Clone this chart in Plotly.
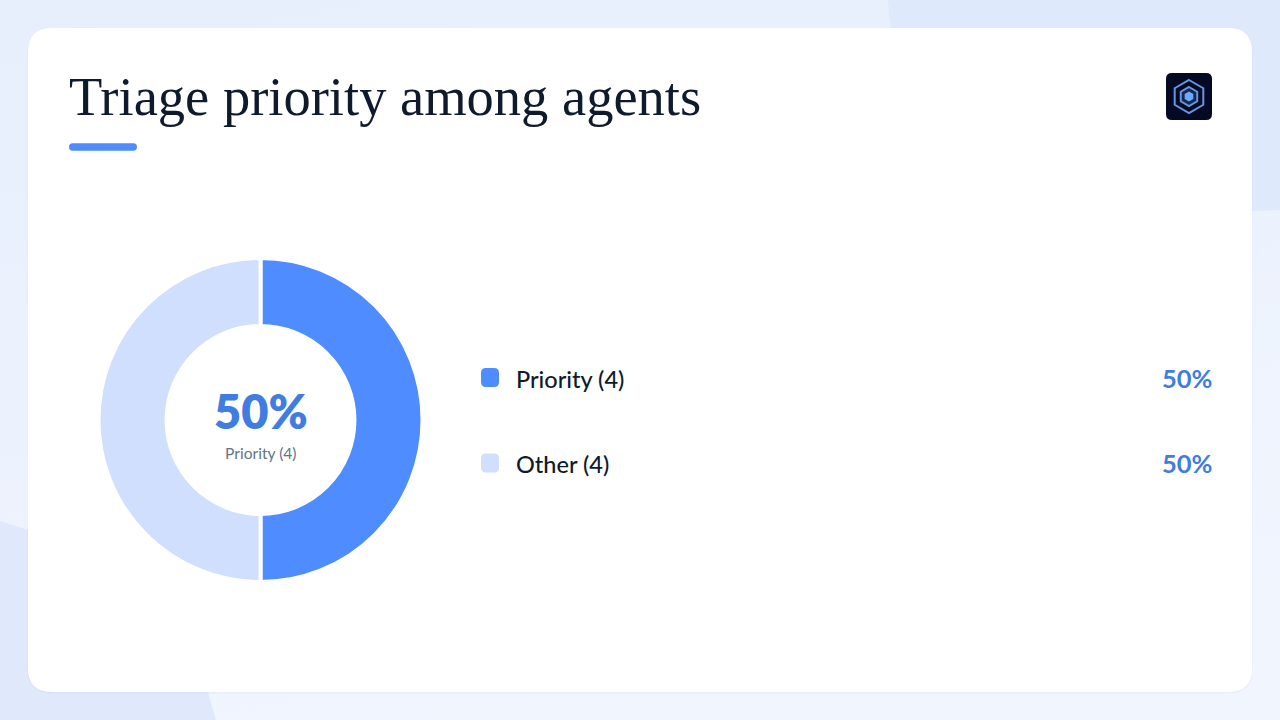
import base64
import plotly.graph_objects as go

W, H = 1280, 720

labels = ['Priority (4)', 'Other (4)']
counts = [4, 4]
slice_colors = ['#4F8CFF', '#CFDFFD']
title_text = 'Triage priority among agents'

total = sum(counts)
pct = [f'{round(c / total * 100)}%' for c in counts]


def px(x):
    return x / W


def py(y):
    return 1 - y / H


def P(x, y):
    return f'{px(x):.5f},{py(y):.5f}'


def rrect(x0, y0, x1, y1, r):
    return (f'M{P(x0 + r, y0)} L{P(x1 - r, y0)} Q{P(x1, y0)} {P(x1, y0 + r)} '
            f'L{P(x1, y1 - r)} Q{P(x1, y1)} {P(x1 - r, y1)} '
            f'L{P(x0 + r, y1)} Q{P(x0, y1)} {P(x0, y1 - r)} '
            f'L{P(x0, y0 + r)} Q{P(x0, y0)} {P(x0 + r, y0)} Z')


def hexagon(cx, cy, r):
    k = r * 0.866
    pts = [(cx, cy - r), (cx + k, cy - r / 2), (cx + k, cy + r / 2),
           (cx, cy + r), (cx - k, cy + r / 2), (cx - k, cy - r / 2)]
    return 'M' + ' L'.join(P(a, b) for a, b in pts) + ' Z'


def shape(path, fill, line=None, width=0):
    return dict(type='path', path=path, xref='paper', yref='paper', layer='below',
                fillcolor=fill, line=dict(color=line or 'rgba(0,0,0,0)', width=width))


# soft page gradient behind everything
svg = (f'<svg xmlns="http://www.w3.org/2000/svg" width="{W}" height="{H}">'
       '<defs><linearGradient id="g" x1="0.1" y1="0" x2="0.4" y2="1">'
       '<stop offset="0" stop-color="#E7EFFD"/><stop offset="1" stop-color="#F1F5FE"/>'
       '</linearGradient></defs>'
       f'<rect width="{W}" height="{H}" fill="url(#g)"/></svg>')
bg_src = 'data:image/svg+xml;base64,' + base64.b64encode(svg.encode()).decode()

shapes = [
    # background blobs
    shape(f'M{P(888, 0)} Q{P(900, 205)} {P(1120, 214)} L{P(1280, 210)} L{P(1280, 0)} Z', '#DFE9FC'),
    shape(f'M{P(0, 521)} L{P(28, 530)} Q{P(170, 570)} {P(208, 692)} L{P(216, 720)} L{P(0, 720)} Z', '#DFE9FB'),
    # card
    shape(rrect(27.5, 28, 1252.5, 693.5, 24), 'rgba(170,190,225,0.10)'),
    shape(rrect(28, 28, 1252, 692, 24), '#FFFFFF'),
    # title underline
    shape(rrect(69, 143.3, 137, 150.7, 3.7), '#4F8CFF'),
    # logo
    shape(rrect(1166, 73, 1212, 120, 6), '#050A24'),
    shape(hexagon(1189, 96.5, 16.5), 'rgba(0,0,0,0)', '#6497E0', 2),
    shape(hexagon(1189, 96.5, 9.5), '#14294F', '#6497E0', 2),
    shape(hexagon(1189, 96.5, 5), '#6FA8FF'),
    # legend swatches
    shape(rrect(481, 368, 499, 387, 5), slice_colors[0]),
    shape(rrect(481, 453.5, 499, 472.5, 5), slice_colors[1]),
]


def note(x, y, text, size, color, anchor='left', family='Lato', weight=400):
    return dict(x=px(x), y=py(y), xref='paper', yref='paper', text=text, showarrow=False,
                xanchor=anchor, yanchor='middle', borderpad=0, borderwidth=0,
                font=dict(family=family, size=size, color=color, weight=weight))


annotations = [
    note(260.5, 411, pct[0], 47, '#3F7DE0', 'center', weight=800),
    note(260.5, 452.5, labels[0], 15.6, '#64748B', 'center'),
    note(516, 378.5, labels[0], 23.5, '#0F1B2D', weight=500),
    note(516, 463.5, labels[1], 23.5, '#0F1B2D', weight=500),
    note(1212, 378, pct[0], 25.5, '#3F7DE0', 'right', weight=700),
    note(1212, 463, pct[1], 25.5, '#3F7DE0', 'right', weight=700),
]

fig = go.Figure(go.Pie(labels=labels, values=counts, sort=False, direction='clockwise',
                       rotation=0, hole=94 / 162, textinfo='none', hoverinfo='label+percent',
                       showlegend=False,
                       marker=dict(colors=slice_colors, line=dict(color='#FFFFFF', width=4)),
                       domain=dict(x=[px(98.5), px(422.5)], y=[py(582), py(258)])))

fig.update_layout(
    width=W, height=H,
    margin=dict(l=0, r=0, t=0, b=0),
    paper_bgcolor='#ECF2FD',
    title=dict(text=title_text, x=px(69), xref='paper', xanchor='left',
               y=py(96), yref='paper', yanchor='middle',
               font=dict(family='Liberation Serif', size=54.5, color='#0F1B2D')),
    images=[dict(source=bg_src, xref='paper', yref='paper', x=0, y=1, sizex=1, sizey=1,
                 sizing='stretch', layer='below')],
    shapes=shapes,
    annotations=annotations,
)

fig.write_html('out.html', config={'displayModeBar': False},
               post_script="document.body.style.margin='0';document.body.style.overflow='hidden';")
